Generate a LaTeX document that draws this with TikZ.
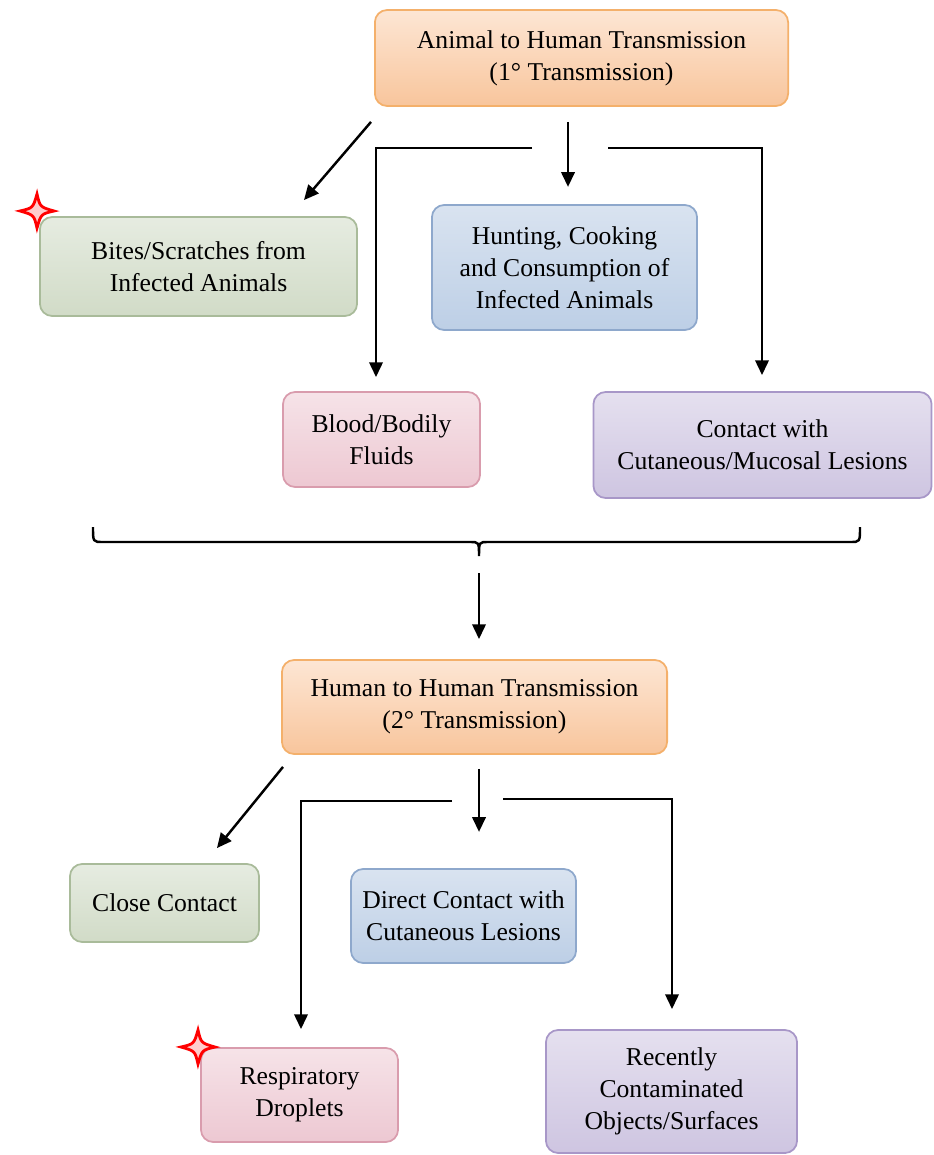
\documentclass[tikz,border=0pt]{standalone}
\usepackage{fontspec}
\setmainfont{Liberation Serif}
\usetikzlibrary{arrows.meta,calc}

\definecolor{orangeline}{HTML}{F4B06B}
\definecolor{orangetop}{HTML}{FDE6D4}
\definecolor{orangebot}{HTML}{F8C59C}
\definecolor{greenline}{HTML}{A9BB9A}
\definecolor{greentop}{HTML}{E6ECE1}
\definecolor{greenbot}{HTML}{D1DBC7}
\definecolor{blueline}{HTML}{8EA8CC}
\definecolor{bluetop}{HTML}{D9E3F0}
\definecolor{bluebot}{HTML}{BDCFE6}
\definecolor{pinkline}{HTML}{D99CAD}
\definecolor{pinktop}{HTML}{F6E3E8}
\definecolor{pinkbot}{HTML}{EDC8D2}
\definecolor{purpleline}{HTML}{A897C8}
\definecolor{purpletop}{HTML}{E5E0EF}
\definecolor{purplebot}{HTML}{CEC5E1}

\begin{document}
\begin{tikzpicture}[x=0.01cm,y=-0.01cm,>={Triangle[length=4.2pt,width=3.8pt]},
  box/.style={draw,rounded corners=3.5pt,align=center,inner sep=0pt,line width=0.5pt,
    font=\fontsize{7.3}{9.1}\selectfont},
  orangebox/.style={box,draw=orangeline,top color=orangetop,bottom color=orangebot},
  greenbox/.style={box,draw=greenline,top color=greentop,bottom color=greenbot},
  bluebox/.style={box,draw=blueline,top color=bluetop,bottom color=bluebot},
  pinkbox/.style={box,draw=pinkline,top color=pinktop,bottom color=pinkbot},
  purplebox/.style={box,draw=purpleline,top color=purpletop,bottom color=purplebot},
  arr/.style={->,line width=0.7pt},
  spark/.style={draw=red,fill=red!20,line width=0.8pt}]
\useasboundingbox (0,0) rectangle (934,1155);

% primary transmission
\node[orangebox,minimum width=4.13cm,minimum height=0.96cm] (animal) at (581.5,58)
  {Animal to Human Transmission\\(1° Transmission)};
\node[greenbox,minimum width=3.17cm,minimum height=0.99cm] (bites) at (198.5,266.5)
  {Bites/Scratches from\\Infected Animals};
\node[bluebox,minimum width=2.65cm,minimum height=1.25cm] (hunting) at (564.5,267.5)
  {Hunting, Cooking\\and Consumption of\\Infected Animals};
\node[pinkbox,minimum width=1.97cm,minimum height=0.95cm] (blood) at (381.5,439.5)
  {Blood/Bodily\\Fluids};
\node[purplebox,minimum width=3.38cm,minimum height=1.06cm] (lesions) at (762.5,445)
  {Contact with\\Cutaneous/Mucosal Lesions};

\draw[arr] ([shift={(-3,15)}]animal.south west) -- ([shift={(-54,-16)}]bites.north east);
\draw[arr] ([shift={(-13.5,15)}]animal.south) -- ++(0,65);
\draw[arr] ([shift={(-49.5,41)}]animal.south) -| ([shift={(-5.5,-14)}]blood.north);
\draw[arr] ([shift={(26.5,41)}]animal.south) -| ([shift={(-0.5,-16)}]lesions.north);

% bracket
\draw[line width=0.7pt] (93,527) .. controls (93,542) .. (103,542) -- (470,542)
  .. controls (479,542) .. (479,556) coordinate (tip) .. controls (479,542) .. (488,542)
  -- (850,542) .. controls (860,542) .. (860,527);

% secondary transmission
\node[orangebox,minimum width=3.85cm,minimum height=0.94cm] (human) at (474.5,707)
  {Human to Human Transmission\\(2° Transmission)};
\node[greenbox,minimum width=1.89cm,minimum height=0.78cm] (close) at (164.5,903)
  {Close Contact};
\node[bluebox,minimum width=2.25cm,minimum height=0.94cm] (direct) at (463.5,916)
  {Direct Contact with\\Cutaneous Lesions};
\node[pinkbox,minimum width=1.97cm,minimum height=0.94cm] (droplets) at (299.5,1095)
  {Respiratory\\Droplets};
\node[purplebox,minimum width=2.51cm,minimum height=1.23cm] (objects) at (671.5,1091.5)
  {Recently\\Contaminated\\Objects/Surfaces};

\draw[arr] ([shift={(0,17)}]tip) -- ([shift={(4.5,-20)}]human.north);
\draw[arr] ([shift={(2,12)}]human.south west) -- ([shift={(-43,-15)}]close.north east);
\draw[arr] ([shift={(4.5,14)}]human.south) -- ++(0,63);
\draw[arr] ([shift={(-22.5,46)}]human.south) -| ([shift={(1.5,-18)}]droplets.north);
\draw[arr] ([shift={(28.5,44)}]human.south) -| ([shift={(0.5,-20)}]objects.north);

% red sparkles
\foreach \p in {(37,211),(198,1047)}
  \draw[spark,shift={\p}] (-17,0) .. controls (-4,-3) .. (0,-17) .. controls (3,-4) .. (17,0)
    .. controls (4,3) .. (0,17) .. controls (-3,4) .. (-17,0) -- cycle;
\end{tikzpicture}
\end{document}
